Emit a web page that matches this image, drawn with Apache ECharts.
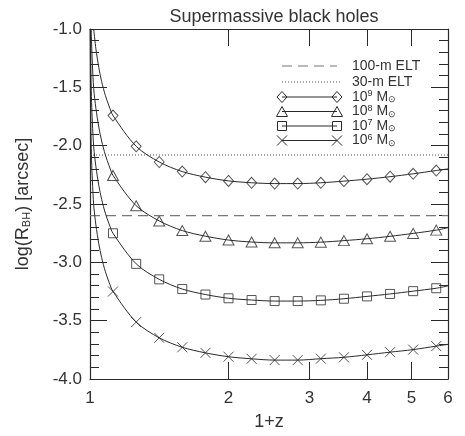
<!DOCTYPE html>
<html>
<head>
<meta charset="utf-8">
<script src="https://cdn.jsdelivr.net/npm/echarts@6/dist/echarts.min.js"></script>
<style>
  html, body { margin: 0; padding: 0; background: #fff; }
  #chart { width: 465px; height: 436px; }
</style>
</head>
<body>
<div id="chart"></div>
<script>
// 1+z at which the mass markers are drawn
const markerX = [1.122, 1.26, 1.414, 1.587, 1.782, 2.0, 2.245, 2.52, 2.828, 3.175, 3.564, 4.0, 4.49, 5.04, 5.657];

// log(R_BH) in arcsec at markerX, one list per black-hole mass
const logR9 = [-1.742, -2.006, -2.140, -2.222, -2.270, -2.302, -2.318, -2.325, -2.325, -2.318, -2.304, -2.287, -2.266, -2.241, -2.213];
const logR8 = [-2.255, -2.515, -2.645, -2.728, -2.776, -2.809, -2.826, -2.833, -2.833, -2.827, -2.814, -2.798, -2.777, -2.752, -2.724];
const logR7 = [-2.751, -3.013, -3.146, -3.229, -3.276, -3.308, -3.323, -3.332, -3.332, -3.326, -3.312, -3.292, -3.271, -3.247, -3.222];
const logR6 = [-3.250, -3.512, -3.647, -3.728, -3.776, -3.809, -3.827, -3.838, -3.838, -3.826, -3.814, -3.793, -3.770, -3.748, -3.718];

// steep low-redshift part of each curve (no markers there)
const nearX9 = [1.0187, 1.03, 1.045, 1.06, 1.08, 1.10];
const nearY9 = [-1.0, -1.17, -1.33, -1.45, -1.57, -1.66];
const nearX8 = [1.006, 1.008, 1.012, 1.0187, 1.03, 1.045, 1.06, 1.08, 1.10];
const nearY8 = [-1.0, -1.12, -1.30, -1.51, -1.68, -1.84, -1.96, -2.08, -2.17];
const nearX7 = [1.0019, 1.003, 1.005, 1.008, 1.012, 1.0187, 1.03, 1.045, 1.06, 1.08, 1.10];
const nearY7 = [-1.0, -1.20, -1.42, -1.63, -1.80, -2.01, -2.18, -2.34, -2.46, -2.58, -2.67];
const nearX6 = [1.0006, 1.001, 1.002, 1.003, 1.005, 1.008, 1.012, 1.0187, 1.03, 1.045, 1.06, 1.08, 1.10];
const nearY6 = [-1.0, -1.22, -1.52, -1.70, -1.92, -2.13, -2.30, -2.51, -2.68, -2.84, -2.96, -3.08, -3.17];

// value of each curve at the right edge, 1+z = 6
const edgeX = 6;
const edgeY = [-2.199, -2.703, -3.202, -3.703];

// resolution limits of the two telescopes
const elt100 = -2.6;
const elt30 = -2.08;

// axis ticks
const xTicks = [2, 3, 4, 5];
const xLabels = [1, 2, 3, 4, 5, 6];

const FONT = '"Liberation Sans", Arial, Helvetica, sans-serif';
const INK = '#2a2a2a';
const TXT = '#333';

function pairs(xs, ys) { return xs.map((x, i) => [x, ys[i]]); }
function curve(nx, ny, my, ey) {
  return pairs(nx, ny).concat(pairs(markerX, my)).concat([[edgeX, ey]]);
}

const crossPath = 'path://M0,0L10,10M10,0L0,10';
const masses = [
  { ys: logR9, near: [nearX9, nearY9], edge: edgeY[0], symbol: 'diamond', size: [10, 11] },
  { ys: logR8, near: [nearX8, nearY8], edge: edgeY[1], symbol: 'triangle', size: [11, 10] },
  { ys: logR7, near: [nearX7, nearY7], edge: edgeY[2], symbol: 'rect', size: [9, 9] },
  { ys: logR6, near: [nearX6, nearY6], edge: edgeY[3], symbol: crossPath, size: [10, 10] }
];

const series = [
  { type: 'line', data: [[1, elt100], [6, elt100]], symbol: 'none', silent: true,
    lineStyle: { color: '#777', width: 1.1, type: [10, 6] } },
  { type: 'line', data: [[1, elt30], [6, elt30]], symbol: 'none', silent: true,
    lineStyle: { color: '#555', width: 1, type: [1, 2] } }
];
masses.forEach(m => {
  series.push({
    type: 'line', data: curve(m.near[0], m.near[1], m.ys, m.edge),
    symbol: 'none', smooth: 0.3, silent: true,
    lineStyle: { color: INK, width: 1 }
  });
  series.push({
    type: 'scatter', data: pairs(markerX, m.ys),
    symbol: m.symbol, symbolSize: m.size, silent: true,
    itemStyle: { color: 'rgba(0,0,0,0)', borderColor: INK, borderWidth: 1 }
  });
});

const axisLine = { show: true, onZero: false, lineStyle: { color: INK, width: 1.2 } };
const tickLine = { color: INK, width: 1 };

function xAxis(pos, labels) {
  return {
    type: 'log', logBase: 10, min: 1, max: 6, position: pos,
    axisLine: axisLine,
    axisTick: { show: true, inside: true, length: 17, customValues: xTicks, lineStyle: tickLine },
    axisLabel: labels ? { show: true, customValues: xLabels, fontSize: 17, color: TXT, fontFamily: FONT, margin: 11 }
                      : { show: false },
    minorTick: { show: false }, splitLine: { show: false },
    name: labels ? '1+z' : '', nameLocation: 'middle', nameGap: 34,
    nameTextStyle: { fontSize: 18, color: TXT, fontFamily: FONT }
  };
}
function yAxis(pos, labels) {
  return {
    type: 'value', min: -4, max: -1, interval: 0.5, position: pos,
    axisLine: axisLine,
    axisTick: { show: true, inside: true, length: 17, lineStyle: tickLine },
    minorTick: { show: true, splitNumber: 5, length: 9, lineStyle: tickLine },
    axisLabel: labels ? { show: true, fontSize: 17, color: TXT, fontFamily: FONT, margin: 8,
                          formatter: v => v.toFixed(1) }
                      : { show: false },
    splitLine: { show: false }, minorSplitLine: { show: false },
    name: labels ? 'log(R{sub|BH}) [arcsec]' : '', nameLocation: 'middle', nameGap: 58, nameRotate: 90,
    nameTextStyle: { fontSize: 18, color: TXT, fontFamily: FONT,
      rich: { sub: { fontSize: 11, color: TXT, fontFamily: FONT, verticalAlign: 'bottom', padding: [6, 0, 0, 0] } } }
  };
}

// legend drawn as graphic elements
const legendRows = [66, 82, 97, 111.5, 126, 140.5];
const lx0 = 282, lx1 = 337, ltx = 352;
const legendText = ['100-m ELT', '30-m ELT', '10{sup|9} M{sub|⊙}', '10{sup|8} M{sub|⊙}', '10{sup|7} M{sub|⊙}', '10{sup|6} M{sub|⊙}'];
const graphics = [];
function seg(x1, y1, x2, y2, style) {
  graphics.push({ type: 'line', shape: { x1, y1, x2, y2 }, style: Object.assign({ stroke: INK, lineWidth: 1 }, style), silent: true });
}
function marker(kind, cx, cy) {
  const s = { fill: 'none', stroke: INK, lineWidth: 1 };
  if (kind === 0) graphics.push({ type: 'polygon', shape: { points: [[cx, cy - 5.5], [cx + 5, cy], [cx, cy + 5.5], [cx - 5, cy]] }, style: s, silent: true });
  if (kind === 1) graphics.push({ type: 'polygon', shape: { points: [[cx, cy - 5], [cx + 5.5, cy + 5], [cx - 5.5, cy + 5]] }, style: s, silent: true });
  if (kind === 2) graphics.push({ type: 'rect', shape: { x: cx - 4.5, y: cy - 4.5, width: 9, height: 9 }, style: s, silent: true });
  if (kind === 3) { seg(cx - 5, cy - 5, cx + 5, cy + 5); seg(cx + 5, cy - 5, cx - 5, cy + 5); }
}
seg(lx0, legendRows[0], lx1, legendRows[0], { stroke: '#777', lineDash: [10, 6], lineWidth: 1.1 });
seg(lx0, legendRows[1], lx1 + 3, legendRows[1], { stroke: '#555', lineDash: [1, 2] });
for (let k = 0; k < 4; k++) {
  const y = legendRows[k + 2];
  seg(lx0, y, lx1, y);
  marker(k, lx0, y);
  marker(k, lx1, y);
}
legendText.forEach((t, i) => {
  graphics.push({
    type: 'text', x: ltx, y: legendRows[i], silent: true,
    style: {
      text: t, fill: TXT, fontSize: 14, fontFamily: FONT, verticalAlign: 'middle', align: 'left',
      rich: {
        sup: { fontSize: 9, fill: TXT, fontFamily: FONT, verticalAlign: 'top', padding: [0, 0, 6, 0] },
        sub: { fontSize: 9, fill: TXT, fontFamily: FONT, verticalAlign: 'bottom', padding: [6, 0, 0, 0] }
      }
    }
  });
});

const chart = echarts.init(document.getElementById('chart'), null, { renderer: 'canvas' });
chart.setOption({
  animation: false,
  backgroundColor: '#fff',
  title: { text: 'Supermassive black holes', left: 269, top: 3, textAlign: 'center',
    textStyle: { fontSize: 18, fontWeight: 'normal', color: TXT, fontFamily: FONT } },
  grid: { left: 90, top: 29, right: 17, bottom: 50, containLabel: false },
  xAxis: [xAxis('bottom', true), xAxis('top', false)],
  yAxis: [yAxis('left', true), yAxis('right', false)],
  series: series,
  graphic: graphics
});
</script>
</body>
</html>
